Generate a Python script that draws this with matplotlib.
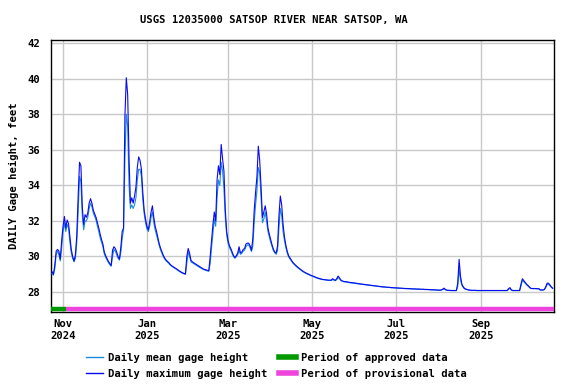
import matplotlib
matplotlib.use("Agg")
import matplotlib.pyplot as plt
from matplotlib.lines import Line2D
import pandas as pd

start_date = "2024-10-24"
end_date = "2025-10-23"

# Daily maximum gage height (feet), month by month
max_oct24 = [29.15, 29.0, 29.5, 30.3, 30.4, 30.3, 29.85, 30.9]
max_nov24 = [31.7, 32.25, 31.6, 32.05, 31.85, 31.1, 30.4, 30.0, 29.75, 30.1,
             31.2, 33.4, 35.3, 35.1, 32.8, 31.8, 32.35, 32.2, 32.45, 33.0,
             33.25, 33.0, 32.6, 32.4, 32.2, 31.9, 31.6, 31.25, 30.95, 30.7]
max_dec24 = [30.25, 30.05, 29.88, 29.73, 29.6, 29.5, 30.35, 30.55, 30.45, 30.25,
             30.0, 29.85, 30.5, 31.4, 31.6, 37.9, 40.05, 39.1, 35.5, 33.0,
             33.3, 33.0, 33.4, 33.9, 35.0, 35.6, 35.4, 34.9, 33.6, 32.6, 32.1]
max_jan25 = [31.7, 31.5, 31.95, 32.5, 32.85, 32.2, 31.7, 31.4, 31.05, 30.7,
             30.45, 30.25, 30.05, 29.9, 29.8, 29.72, 29.65, 29.55, 29.48, 29.43,
             29.38, 29.33, 29.28, 29.22, 29.17, 29.12, 29.08, 29.05, 29.02, 30.0, 30.45]
max_feb25 = [30.2, 29.8, 29.7, 29.65, 29.6, 29.55, 29.5, 29.45, 29.4, 29.35,
             29.3, 29.27, 29.25, 29.22, 29.2, 30.0, 30.9, 31.8, 32.5, 32.0,
             34.3, 35.1, 34.6, 36.3, 35.5, 34.8, 32.6, 31.4]
max_mar25 = [30.9, 30.6, 30.45, 30.25, 30.05, 29.95, 30.05, 30.2, 30.55, 30.2,
             30.25, 30.4, 30.45, 30.7, 30.75, 30.75, 30.6, 30.35, 31.0, 32.6,
             33.6, 34.5, 36.2, 35.4, 33.9, 32.2, 32.5, 32.85, 32.4, 31.6, 31.25]
max_apr25 = [30.95, 30.65, 30.4, 30.25, 30.2, 30.6, 32.3, 33.4, 32.9, 31.8,
             31.1, 30.65, 30.3, 30.05, 29.93, 29.8, 29.68, 29.6, 29.52, 29.45,
             29.38, 29.32, 29.26, 29.2, 29.15, 29.1, 29.06, 29.03, 28.99, 28.95]
max_may25 = [28.92, 28.89, 28.86, 28.82, 28.8, 28.77, 28.75, 28.73, 28.71, 28.7,
             28.69, 28.68, 28.67, 28.67, 28.67, 28.75, 28.7, 28.66, 28.75, 28.9,
             28.8, 28.68, 28.63, 28.6, 28.59, 28.58, 28.57, 28.55, 28.54, 28.53, 28.52]
max_jun25 = [28.51, 28.5, 28.49, 28.47, 28.46, 28.45, 28.44, 28.43, 28.42, 28.41,
             28.4, 28.39, 28.38, 28.37, 28.36, 28.35, 28.34, 28.33, 28.32, 28.31,
             28.3, 28.29, 28.29, 28.28, 28.27, 28.27, 28.26, 28.25, 28.25, 28.24]
max_jul25 = [28.24, 28.23, 28.23, 28.22, 28.22, 28.21, 28.21, 28.2, 28.2, 28.2,
             28.19, 28.19, 28.18, 28.18, 28.18, 28.17, 28.17, 28.17, 28.16, 28.16,
             28.16, 28.15, 28.15, 28.15, 28.14, 28.14, 28.13, 28.13, 28.13, 28.12, 28.12]
max_aug25 = [28.11, 28.11, 28.12, 28.16, 28.22, 28.15, 28.11, 28.1, 28.1, 28.09,
             28.09, 28.09, 28.09, 28.09, 28.5, 29.84, 28.9, 28.45, 28.3, 28.2,
             28.17, 28.14, 28.12, 28.11, 28.1, 28.1, 28.1, 28.1, 28.09, 28.09, 28.09]
max_sep25 = [28.09, 28.09, 28.09, 28.09, 28.09, 28.09, 28.09, 28.09, 28.09, 28.09,
             28.09, 28.09, 28.09, 28.09, 28.09, 28.09, 28.09, 28.09, 28.09, 28.09,
             28.2, 28.25, 28.12, 28.09, 28.09, 28.09, 28.09, 28.09, 28.09, 28.45]
max_oct25 = [28.75, 28.65, 28.55, 28.45, 28.38, 28.3, 28.22, 28.2, 28.2, 28.2,
             28.2, 28.19, 28.19, 28.12, 28.12, 28.12, 28.15, 28.3, 28.5, 28.5,
             28.4, 28.3, 28.22]

# Daily mean gage height (feet), month by month
mean_oct24 = [29.05, 28.95, 29.3, 30.1, 30.3, 30.1, 29.75, 30.5]
mean_nov24 = [31.4, 31.9, 31.4, 31.8, 31.6, 30.8, 30.2, 29.9, 29.7, 29.9,
              30.8, 32.5, 34.5, 34.2, 32.3, 31.5, 32.0, 32.0, 32.2, 32.7,
              33.0, 32.8, 32.45, 32.25, 32.05, 31.7, 31.4, 31.05, 30.8, 30.55]
mean_dec24 = [30.15, 29.95, 29.8, 29.65, 29.55, 29.45, 30.0, 30.4, 30.3, 30.1,
              29.9, 29.8, 30.2, 31.0, 31.5, 35.5, 38.0, 37.3, 34.0, 32.7,
              32.9, 32.7, 32.9, 33.3, 34.3, 34.9, 34.9, 34.5, 33.2, 32.4, 31.9]
mean_jan25 = [31.55, 31.4, 31.7, 32.2, 32.5, 31.9, 31.5, 31.2, 30.9, 30.6,
              30.35, 30.15, 29.98, 29.85, 29.75, 29.68, 29.6, 29.52, 29.45, 29.4,
              29.35, 29.3, 29.25, 29.19, 29.14, 29.1, 29.05, 29.02, 28.99, 29.6, 30.25]
mean_feb25 = [30.0, 29.7, 29.65, 29.6, 29.55, 29.5, 29.45, 29.4, 29.36, 29.32,
              29.27, 29.24, 29.22, 29.19, 29.17, 29.6, 30.5, 31.3, 32.1, 31.7,
              33.3, 34.3, 34.0, 35.3, 34.8, 33.8, 32.2, 31.2]
mean_mar25 = [30.75, 30.5, 30.35, 30.15, 29.98, 29.9, 29.98, 30.1, 30.35, 30.12,
              30.18, 30.3, 30.35, 30.55, 30.65, 30.65, 30.5, 30.28, 30.6, 31.9,
              32.9, 33.7, 35.0, 34.7, 33.3, 31.9, 32.1, 32.5, 32.0, 31.4, 31.1]
mean_apr25 = [30.8, 30.55, 30.32, 30.2, 30.12, 30.35, 31.6, 32.7, 32.3, 31.4,
              30.9, 30.5, 30.2, 29.98, 29.87, 29.75, 29.64, 29.56, 29.48, 29.41,
              29.35, 29.29, 29.23, 29.17, 29.12, 29.08, 29.04, 29.0, 28.97, 28.93]
mean_may25 = [28.9, 28.87, 28.84, 28.8, 28.78, 28.75, 28.73, 28.71, 28.7, 28.69,
              28.68, 28.67, 28.66, 28.66, 28.65, 28.7, 28.67, 28.64, 28.7, 28.82,
              28.74, 28.65, 28.61, 28.58, 28.57, 28.56, 28.55, 28.53, 28.52, 28.51, 28.5]
mean_jun25 = [28.49, 28.48, 28.47, 28.46, 28.45, 28.44, 28.43, 28.42, 28.41, 28.4,
              28.39, 28.38, 28.37, 28.36, 28.35, 28.34, 28.33, 28.32, 28.31, 28.3,
              28.29, 28.28, 28.28, 28.27, 28.26, 28.26, 28.25, 28.24, 28.24, 28.23]
mean_jul25 = [28.23, 28.22, 28.22, 28.21, 28.21, 28.2, 28.2, 28.19, 28.19, 28.19,
              28.18, 28.18, 28.17, 28.17, 28.17, 28.16, 28.16, 28.16, 28.15, 28.15,
              28.15, 28.14, 28.14, 28.14, 28.13, 28.13, 28.12, 28.12, 28.12, 28.11, 28.11]
mean_aug25 = [28.1, 28.1, 28.11, 28.14, 28.18, 28.13, 28.1, 28.09, 28.09, 28.08,
              28.08, 28.08, 28.08, 28.08, 28.3, 29.3, 28.7, 28.38, 28.26, 28.18,
              28.15, 28.13, 28.11, 28.1, 28.09, 28.09, 28.09, 28.09, 28.08, 28.08, 28.08]
mean_sep25 = [28.08, 28.08, 28.08, 28.08, 28.08, 28.08, 28.08, 28.08, 28.08, 28.08,
              28.08, 28.08, 28.08, 28.08, 28.08, 28.08, 28.08, 28.08, 28.08, 28.08,
              28.16, 28.2, 28.11, 28.08, 28.08, 28.08, 28.08, 28.08, 28.08, 28.35]
mean_oct25 = [28.65, 28.58, 28.5, 28.41, 28.34, 28.27, 28.2, 28.19, 28.19, 28.19,
              28.19, 28.18, 28.18, 28.11, 28.11, 28.11, 28.14, 28.25, 28.42, 28.44,
              28.36, 28.27, 28.2]

approved_period = ["2024-10-23", "2024-11-03"]
provisional_period = ["2024-11-03", "2025-10-24"]

tick_dates = ["2024-11-01", "2025-01-01", "2025-03-01", "2025-05-01", "2025-07-01", "2025-09-01"]
tick_labels = ["Nov\n2024", "Jan\n2025", "Mar\n2025", "May\n2025", "Jul\n2025", "Sep\n2025"]
y_ticks = [28, 30, 32, 34, 36, 38, 40, 42]

title = "USGS 12035000 SATSOP RIVER NEAR SATSOP, WA"
ylabel = "DAILY Gage height, feet"
legend_labels = ["Daily mean gage height", "Daily maximum gage height",
                 "Period of approved data", "Period of provisional data"]

max_vals = (max_oct24 + max_nov24 + max_dec24 + max_jan25 + max_feb25 + max_mar25 +
            max_apr25 + max_may25 + max_jun25 + max_jul25 + max_aug25 + max_sep25 + max_oct25)
mean_vals = (mean_oct24 + mean_nov24 + mean_dec24 + mean_jan25 + mean_feb25 + mean_mar25 +
             mean_apr25 + mean_may25 + mean_jun25 + mean_jul25 + mean_aug25 + mean_sep25 + mean_oct25)
dates = pd.date_range(start_date, end_date, freq="D")

FONT = "DejaVu Sans Mono"
FS = 7.6
C_MEAN = "#1a8ce0"
C_MAX = "#0a0aee"
C_APP = "#009a00"
C_PROV = "#ee44dd"

fig = plt.figure(figsize=(5.76, 3.84), dpi=100)
ax = fig.add_axes([51/576, 1 - 312/384, (554 - 51)/576, (312 - 40)/384])

ax.plot(dates, mean_vals, color=C_MEAN, lw=0.8, zorder=3)
ax.plot(dates, max_vals, color=C_MAX, lw=0.8, zorder=4)

bar_y = 27.05
ax.plot(pd.to_datetime(approved_period), [bar_y, bar_y], color=C_APP, lw=3.2,
        solid_capstyle="butt", zorder=5)
ax.plot(pd.to_datetime(provisional_period), [bar_y, bar_y], color=C_PROV, lw=3.2,
        solid_capstyle="butt", zorder=5)

ax.set_xlim(pd.Timestamp("2024-10-23 06:00"), pd.Timestamp("2025-10-24"))
ax.set_ylim(26.88, 42.17)

ax.set_xticks(pd.to_datetime(tick_dates))
ax.set_xticklabels(tick_labels, fontfamily=FONT, fontweight="bold", fontsize=FS)
ax.set_yticks(y_ticks)
ax.set_yticklabels([str(v) for v in y_ticks], fontfamily=FONT, fontweight="bold", fontsize=FS)
ax.tick_params(axis="both", length=0)
ax.tick_params(axis="x", pad=5)
ax.tick_params(axis="y", pad=8)

ax.grid(True, color="#c8c8c8", lw=1.0, zorder=0)
ax.set_axisbelow(True)
for s in ax.spines.values():
    s.set_color("black")
    s.set_linewidth(1.0)

ax.set_ylabel(ylabel, fontfamily=FONT, fontweight="bold", fontsize=FS, labelpad=6)

fig.text(273.5/576, 1 - 20/384, title, ha="center", va="center",
         fontfamily=FONT, fontweight="bold", fontsize=FS)

handles = [Line2D([], [], color=C_MEAN, lw=1.0),
           Line2D([], [], color=C_MAX, lw=1.0),
           Line2D([], [], color=C_APP, lw=4.0),
           Line2D([], [], color=C_PROV, lw=4.0)]
fig.legend(handles, legend_labels, ncol=2, loc="lower left",
           bbox_to_anchor=(86/576, 0.014), frameon=False,
           prop={"family": FONT, "weight": "bold", "size": FS},
           handlelength=1.6, handletextpad=0.5, columnspacing=1.1,
           labelspacing=0.55, borderpad=0.0, borderaxespad=0.0)

fig.savefig("out.png", dpi=100)
